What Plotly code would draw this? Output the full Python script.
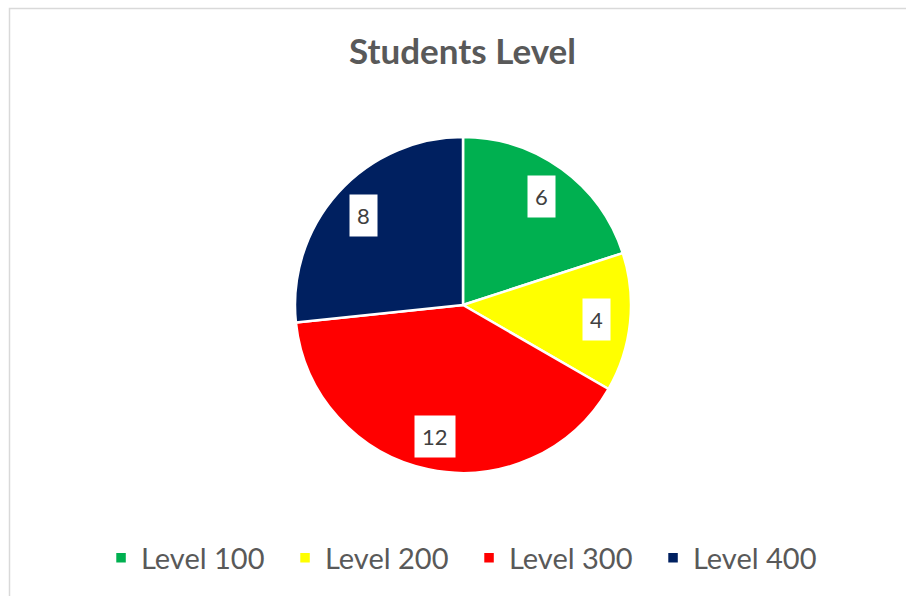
import math
import plotly.graph_objects as go

categories = ["Level 100", "Level 200", "Level 300", "Level 400"]
values = [6, 4, 12, 8]
colors = ["#00B050", "#FFFF00", "#FF0000", "#002060"]

W, H = 906, 596
cx, cy, R = 463, 305, 168

fig = go.Figure(go.Pie(
    labels=categories, values=values, sort=False, direction="clockwise", rotation=0,
    marker=dict(colors=colors, line=dict(color="white", width=2.5)),
    textinfo="none", hoverinfo="label+value",
    domain=dict(x=[(cx - R) / W, (cx + R) / W], y=[(H - cy - R) / H, (H - cy + R) / H]),
))

total = sum(values)
cum = 0
for v in values:
    mid = (cum + v / 2) / total * 2 * math.pi
    cum += v
    r = 0.8 * R
    px = cx + r * math.sin(mid)
    py = cy - r * math.cos(mid)
    fig.add_annotation(x=px / W, y=1 - py / H, xref="paper", yref="paper",
                       xanchor="center", yanchor="middle",
                       text=str(v), showarrow=False, bgcolor="white", borderpad=7,
                       font=dict(family="Lato", size=22, color="#404040"))

fig.add_shape(type="rect", xref="paper", yref="paper",
              x0=9.5 / W, x1=1.05, y0=-0.05, y1=1 - 8.5 / H,
              line=dict(color="#D9D9D9", width=1.5))

fig.update_layout(
    width=W, height=H, margin=dict(l=0, r=0, t=0, b=0, autoexpand=False),
    paper_bgcolor="white", plot_bgcolor="white",
    title=dict(text="<b>Students Level</b>", x=462.5 / W, xanchor="center", y=1 - 52 / H, yanchor="middle",
               font=dict(family="Lato", size=35, color="#595959")),
    legend=dict(orientation="h", x=0.5177, xanchor="center", y=1 - 558 / H, yanchor="middle",
                font=dict(family="Lato", size=29, color="#595959"), entrywidth=139, traceorder="normal"),
    showlegend=True,
)

fig.write_html("out.html", config={"displayModeBar": False},
               post_script="document.body.style.margin='0';document.body.style.overflow='hidden';")
